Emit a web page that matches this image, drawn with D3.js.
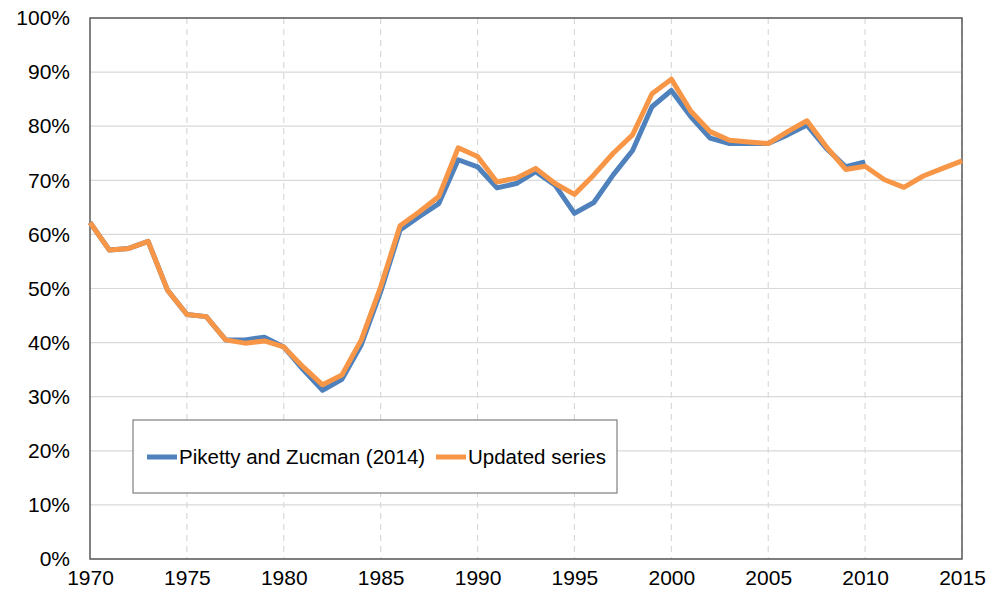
<!DOCTYPE html>
<html>
<head>
<meta charset="utf-8">
<script src="https://cdn.jsdelivr.net/npm/d3@7"></script>
<style>
  body { margin: 0; background: #fff; }
  text { font-family: "Liberation Sans", Arial, sans-serif; }
</style>
</head>
<body>
<div id="container"></div>
<script>
const years = d3.range(1970, 2016);
const pikettyZucman = [
  62.2, 57.1, 57.4, 58.7, 49.7, 45.2, 44.8, 40.5, 40.5, 41.0,
  39.2, 35.0, 31.2, 33.2, 39.6, 49.4, 60.8, 63.3, 65.7, 73.8,
  72.5, 68.6, 69.4, 71.6, 69.1, 63.9, 65.9, 71.0, 75.5, 83.6,
  86.6, 81.8, 77.8, 76.8, 76.8, 76.8, 78.4, 80.2, 75.9, 72.5,
  73.4
];
const updatedSeries = [
  62.2, 57.1, 57.4, 58.7, 49.7, 45.2, 44.8, 40.5, 39.9, 40.3,
  39.2, 35.5, 32.2, 34.0, 40.5, 50.3, 61.6, 64.2, 67.0, 76.0,
  74.4, 69.7, 70.4, 72.2, 69.4, 67.4, 71.0, 75.0, 78.4, 86.0,
  88.7, 82.8, 79.0, 77.4, 77.1, 76.8, 79.0, 81.0, 76.2, 72.0,
  72.6, 70.1, 68.7, 70.8, 72.2, 73.6
];
const yTicks = d3.range(0, 101, 10);
const xTicks = d3.range(1970, 2016, 5);
const seriesNames = ["Piketty and Zucman (2014)", "Updated series"];

const w = 992;
const h = 599;
const pad = { top: 18, right: 30, bottom: 40, left: 90 };

const x = d3.scaleLinear().domain([1970, 2015]).range([pad.left, w - pad.right]);
const y = d3.scaleLinear().domain([0, 100]).range([h - pad.bottom, pad.top]);

const svg = d3.select("#container").append("svg")
  .attr("width", w)
  .attr("height", h);

// horizontal gridlines
svg.append("g")
  .selectAll("line")
  .data(yTicks)
  .enter()
  .append("line")
  .attr("x1", pad.left)
  .attr("x2", w - pad.right)
  .attr("y1", (d) => y(d))
  .attr("y2", (d) => y(d))
  .attr("stroke", "#d9d9d9")
  .attr("stroke-width", 1.2);

// vertical dashed gridlines
svg.append("g")
  .selectAll("line")
  .data(xTicks.slice(1))
  .enter()
  .append("line")
  .attr("x1", (d) => x(d))
  .attr("x2", (d) => x(d))
  .attr("y1", pad.top)
  .attr("y2", h - pad.bottom)
  .attr("stroke", "#d9d9d9")
  .attr("stroke-width", 1.2)
  .attr("stroke-dasharray", "6,5");

// frame
svg.append("rect")
  .attr("x", pad.left)
  .attr("y", pad.top)
  .attr("width", w - pad.left - pad.right)
  .attr("height", h - pad.top - pad.bottom)
  .attr("fill", "none")
  .attr("stroke", "#595959")
  .attr("stroke-width", 1.5);

// axes labels
const yAxis = d3.axisLeft(y).tickValues(yTicks).tickFormat((d) => d + "%").tickSize(0).tickPadding(20);
const yg = svg.append("g").attr("transform", `translate(${pad.left},0)`).call(yAxis);
yg.select(".domain").remove();
yg.selectAll("text").attr("font-size", 21).attr("fill", "#000")
  .style("font-family", "'Liberation Sans', Arial, sans-serif");

const xAxis = d3.axisBottom(x).tickValues(xTicks).tickFormat(d3.format("d")).tickSize(0).tickPadding(11);
const xg = svg.append("g").attr("transform", `translate(0,${h - pad.bottom})`).call(xAxis);
xg.select(".domain").remove();
xg.selectAll("text").attr("font-size", 21).attr("fill", "#000")
  .style("font-family", "'Liberation Sans', Arial, sans-serif");

const line = d3.line()
  .x((d, i) => x(years[i]))
  .y((d) => y(d));

svg.append("path")
  .datum(pikettyZucman)
  .attr("d", line)
  .attr("fill", "none")
  .attr("stroke", "#4f81bd")
  .attr("stroke-width", 5)
  .attr("stroke-linejoin", "round");

svg.append("path")
  .datum(updatedSeries)
  .attr("d", line)
  .attr("fill", "none")
  .attr("stroke", "#f79646")
  .attr("stroke-width", 5)
  .attr("stroke-linejoin", "round");

// legend
const legend = svg.append("g").attr("transform", "translate(133,420)");
legend.append("rect")
  .attr("width", 484)
  .attr("height", 73)
  .attr("fill", "#fff")
  .attr("stroke", "#7f7f7f")
  .attr("stroke-width", 1.2);

const items = [
  { name: seriesNames[0], color: "#4f81bd", x: 14 },
  { name: seriesNames[1], color: "#f79646", x: 303 }
];
const li = legend.selectAll(".item")
  .data(items)
  .enter()
  .append("g")
  .attr("transform", (d) => `translate(${d.x},37)`);
li.append("line")
  .attr("x1", 0)
  .attr("x2", 30)
  .attr("stroke", (d) => d.color)
  .attr("stroke-width", 5);
li.append("text")
  .attr("x", 32)
  .attr("y", 7)
  .attr("font-size", 20.5)
  .attr("fill", "#000")
  .text((d) => d.name);
</script>
</body>
</html>
